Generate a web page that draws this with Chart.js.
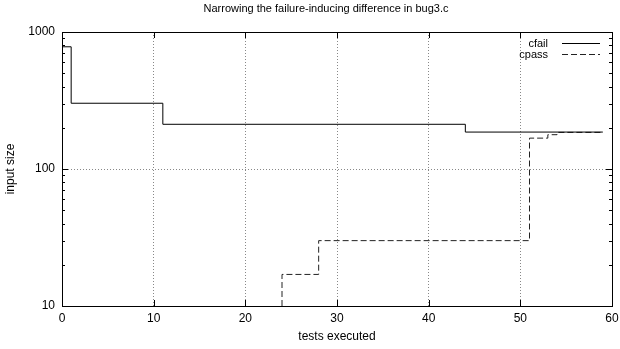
<!DOCTYPE html>
<html>
<head>
<meta charset="utf-8">
<script src="https://cdn.jsdelivr.net/npm/chart.js@4/dist/chart.umd.min.js"></script>
<style>
  html, body { margin: 0; padding: 0; background: #fff; }
</style>
</head>
<body>
<canvas id="c" width="620" height="349"></canvas>
<script>
// step plot of input sizes over the delta-debugging run
const TITLE = "Narrowing the failure-inducing difference in bug3.c";
const X_LABEL = "tests executed";
const Y_LABEL = "input size";

const X_TICKS = [0, 10, 20, 30, 40, 50, 60];
const Y_TICKS = [10, 100, 1000];
const Y_MINOR = [20, 30, 40, 50, 60, 70, 80, 90, 200, 300, 400, 500, 600, 700, 800, 900];

const CFAIL_TESTS = [0, 1, 11, 44, 59];
const CFAIL_SIZE = [780, 302, 212, 186, 186];

const CPASS_TESTS = [24, 24, 28, 51, 53, 54, 59];
const CPASS_SIZE = [10, 17, 30, 168, 178, 185, 186];

const FAMILY = "'Liberation Sans', Arial, Helvetica, sans-serif";
const SMALL = { family: FAMILY, size: 11 };
const AXIS = { family: FAMILY, size: 12 };

const toPoints = (xs, ys) => xs.map((x, i) => ({ x, y: ys[i] }));

/** Title, border, inward tick marks and gnuplot-style legend (text then sample). */
const framePlugin = {
  id: "frame",
  afterDraw(chart) {
    const { ctx, chartArea: a, scales } = chart;
    const xs = scales.x, ys = scales.y;
    ctx.save();
    ctx.strokeStyle = "#000";
    ctx.lineWidth = 1;
    ctx.setLineDash([]);
    ctx.strokeRect(Math.round(a.left) + 0.5, Math.round(a.top) + 0.5,
      Math.round(a.right - a.left), Math.round(a.bottom - a.top));

    ctx.beginPath();
    for (const v of X_TICKS) {
      const px = Math.round(xs.getPixelForValue(v)) + 0.5;
      ctx.moveTo(px, a.bottom); ctx.lineTo(px, a.bottom - 6);
      ctx.moveTo(px, a.top); ctx.lineTo(px, a.top + 6);
    }
    for (const v of Y_TICKS) {
      const py = Math.round(ys.getPixelForValue(v)) + 0.5;
      ctx.moveTo(a.left, py); ctx.lineTo(a.left + 6, py);
      ctx.moveTo(a.right, py); ctx.lineTo(a.right - 6, py);
    }
    for (const v of Y_MINOR) {
      const py = Math.round(ys.getPixelForValue(v)) + 0.5;
      ctx.moveTo(a.left, py); ctx.lineTo(a.left + 3, py);
      ctx.moveTo(a.right, py); ctx.lineTo(a.right - 3, py);
    }
    ctx.stroke();

    ctx.font = `${SMALL.size}px ${FAMILY}`;
    ctx.fillStyle = "#000";
    ctx.textBaseline = "middle";
    ctx.textAlign = "center";
    ctx.fillText(TITLE, 326, 9);

    // legend
    ctx.textAlign = "right";
    chart.data.datasets.forEach((ds, i) => {
      const y = 43.5 + i * 11;
      ctx.fillText(ds.label, 548, y);
      ctx.beginPath();
      ctx.setLineDash(ds.borderDash || []);
      ctx.strokeStyle = ds.borderColor;
      ctx.moveTo(562, y); ctx.lineTo(600, y);
      ctx.stroke();
    });
    ctx.restore();
  },
};

new Chart(document.getElementById("c"), {
  type: "line",
  data: {
    datasets: [
      {
        label: "cfail",
        data: toPoints(CFAIL_TESTS, CFAIL_SIZE),
        borderColor: "#000",
        borderWidth: 1,
        stepped: true,
        pointRadius: 0,
        fill: false,
      },
      {
        label: "cpass",
        data: toPoints(CPASS_TESTS, CPASS_SIZE),
        borderColor: "#222",
        borderWidth: 1,
        borderDash: [6, 3],
        stepped: true,
        pointRadius: 0,
        fill: false,
      },
    ],
  },
  options: {
    responsive: false,
    animation: false,
    devicePixelRatio: 1,
    layout: { padding: { top: 32, right: 8, bottom: 0, left: 0 } },
    scales: {
      x: {
        type: "linear",
        min: 0,
        max: 60,
        afterBuildTicks: (s) => { s.ticks = X_TICKS.map((value) => ({ value })); },
        afterFit: (s) => {
          s.height = 43;
          // let the last tick label overhang the frame instead of shrinking the plot
          s.paddingLeft = 0;
          s.paddingRight = 0;
        },
        ticks: { font: AXIS, color: "#000", padding: 5, maxRotation: 0 },
        grid: { color: "#888", lineWidth: 1, drawTicks: false },
        border: { display: false, dash: [1, 2] },
        title: { display: true, text: X_LABEL, font: AXIS, color: "#000", padding: { top: 0, bottom: 5 } },
      },
      y: {
        type: "logarithmic",
        min: 10,
        max: 1000,
        afterBuildTicks: (s) => { s.ticks = Y_TICKS.map((value) => ({ value })); },
        afterFit: (s) => { s.width = 62; },
        ticks: { font: AXIS, color: "#000", padding: 7, callback: (v) => String(v) },
        grid: { color: "#888", lineWidth: 1, drawTicks: false },
        border: { display: false, dash: [1, 2] },
        title: { display: true, text: Y_LABEL, font: AXIS, color: "#000", padding: { top: 3, bottom: 0 } },
      },
    },
    plugins: {
      legend: { display: false },
      tooltip: { enabled: false },
      title: { display: false },
    },
  },
  plugins: [framePlugin],
});
</script>
</body>
</html>
